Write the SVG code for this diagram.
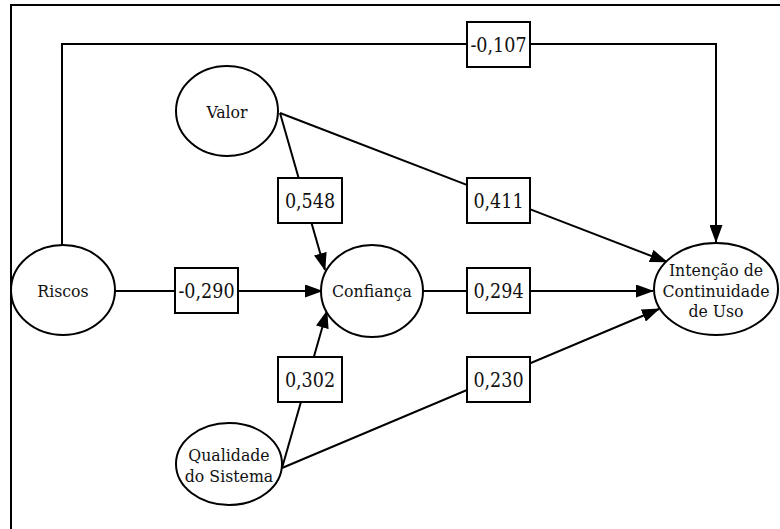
<svg xmlns="http://www.w3.org/2000/svg" width="780" height="529" viewBox="0 0 780 529">
  <style>
    .node ellipse { fill: #fff; stroke: #000; stroke-width: 2; }
    .node text { font-family: "DejaVu Serif Condensed", "Liberation Serif", serif; font-stretch: condensed; font-size: 17.5px; fill: #111; text-anchor: middle; }
    .edge { fill: none; stroke: #000; stroke-width: 2; }
    .coef rect { fill: #fff; stroke: #000; stroke-width: 2; }
    .coef text { font-family: "DejaVu Serif Condensed", "Liberation Serif", serif; font-stretch: condensed; font-size: 19.5px; fill: #111; text-anchor: middle; }
  </style>
  <defs>
    <marker id="arrow" markerWidth="18" markerHeight="13" refX="17" refY="6.5" orient="auto" markerUnits="userSpaceOnUse">
      <path d="M0,0 L18,6.5 L0,13 Z" fill="#000"/>
    </marker>
  </defs>

  <rect width="780" height="529" fill="#fff"/>
  <!-- frame: only the top and left edges fall inside the canvas -->
  <path d="M11,529 L11,5 L780,5" fill="none" stroke="#000" stroke-width="2"/>

  <g id="connectors">
    <path class="edge" d="M62,245 L62,44 L716,44 L716,242" marker-end="url(#arrow)"/>
    <path class="edge" d="M280,113 L325,270" marker-end="url(#arrow)"/>
    <path class="edge" d="M280,113 L667,262" marker-end="url(#arrow)"/>
    <path class="edge" d="M115,291 L322,291" marker-end="url(#arrow)"/>
    <path class="edge" d="M423,291 L653,291" marker-end="url(#arrow)"/>
    <path class="edge" d="M282,468 L327,311" marker-end="url(#arrow)"/>
    <path class="edge" d="M282,468 L659,309" marker-end="url(#arrow)"/>

    <g class="coef"><rect x="467" y="22" width="63" height="45"/><text x="498.5" y="51.5">-0,107</text></g>
    <g class="coef"><rect x="278" y="178" width="64" height="45"/><text x="310" y="207.5">0,548</text></g>
    <g class="coef"><rect x="467" y="178" width="63" height="45"/><text x="498.5" y="207.5">0,411</text></g>
    <g class="coef"><rect x="175" y="268" width="63" height="45"/><text x="206.5" y="297.5">-0,290</text></g>
    <g class="coef"><rect x="467" y="268" width="63" height="45"/><text x="498.5" y="297.5">0,294</text></g>
    <g class="coef"><rect x="278" y="357" width="64" height="45"/><text x="310" y="386.5">0,302</text></g>
    <g class="coef"><rect x="467" y="357" width="63" height="45"/><text x="498.5" y="386.5">0,230</text></g>
  </g>

  <g id="valor" class="node">
    <ellipse cx="227" cy="111" rx="51" ry="45"/>
    <text x="227" y="118">Valor</text>
  </g>
  <g id="riscos" class="node">
    <ellipse cx="63" cy="290" rx="52" ry="45"/>
    <text x="63" y="297">Riscos</text>
  </g>
  <g id="confianca" class="node">
    <ellipse cx="372" cy="291" rx="51" ry="46"/>
    <text x="372" y="297">Confiança</text>
  </g>
  <g id="qualidade" class="node">
    <ellipse cx="229" cy="464" rx="53" ry="41"/>
    <text x="229" y="461">Qualidade</text>
    <text x="229" y="482">do Sistema</text>
  </g>
  <g id="intencao" class="node">
    <ellipse cx="716" cy="289" rx="62" ry="46"/>
    <text x="716" y="276">Intenção de</text>
    <text x="716" y="297">Continuidade</text>
    <text x="716" y="317">de Uso</text>
  </g>
</svg>
